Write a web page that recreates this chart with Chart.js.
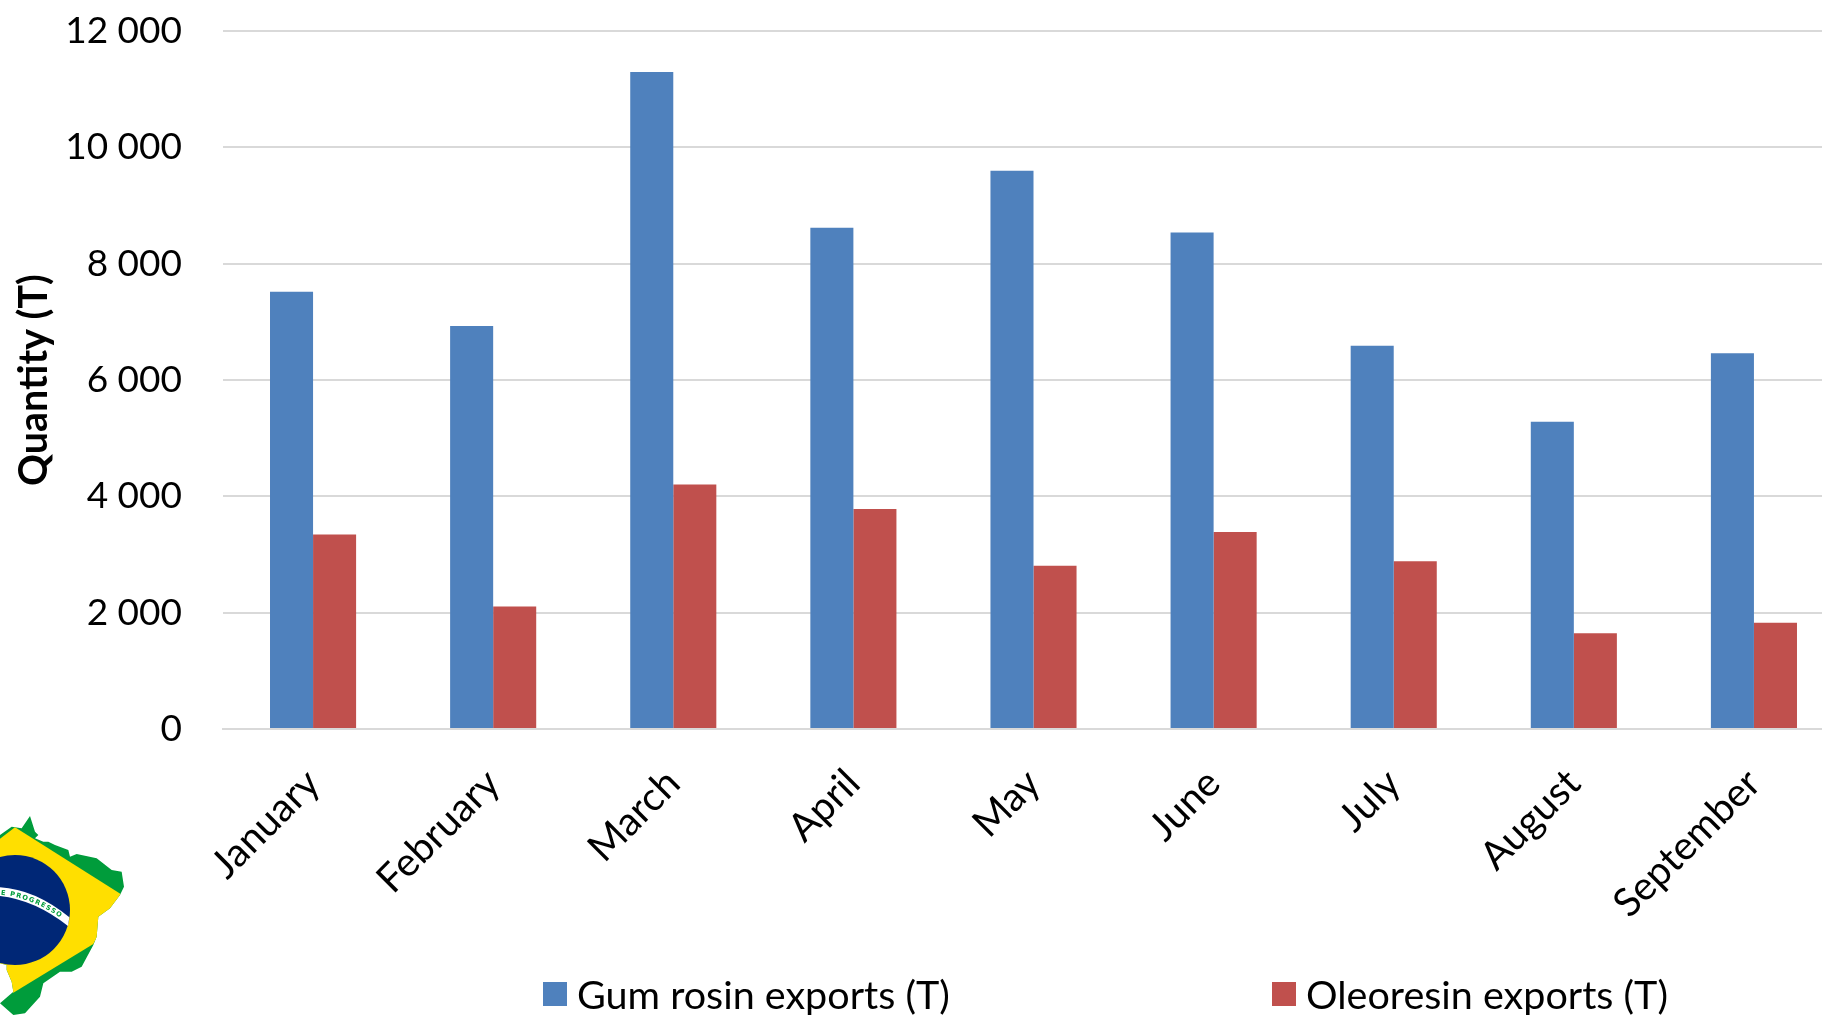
<!DOCTYPE html>
<html lang="en">
<head>
  <meta charset="UTF-8" />
  <title>Brazil gum rosin and oleoresin exports</title>
  <script src="https://cdn.jsdelivr.net/npm/chart.js"></script>
  <style>
    html, body { margin: 0; padding: 0; width: 1822px; height: 1015px; overflow: hidden; background: #fff; }
    canvas { position: absolute; left: 0; top: 0; }
    .legend-item { position: absolute; top: 970px; display: flex; align-items: center; font: 39.5px Lato, sans-serif; color: #000; white-space: nowrap; }
    .legend-item i { display: block; width: 24px; height: 24px; margin-right: 10px; }
    #flag { position: absolute; left: 0; top: 790px; }
  </style>
  <script>
    const months = ["January", "February", "March", "April", "May", "June", "July", "August", "September"];
    const gumRosin = [7519, 6930, 11293, 8617, 9596, 8537, 6590, 5282, 6460];
    const oleoresin = [3345, 2107, 4204, 3784, 2806, 3385, 2886, 1648, 1827];
    const seriesNames = ["Gum rosin exports (T)", "Oleoresin exports (T)"];
    const seriesColors = ["#4f81bd", "#c0504d"];
    const legendLefts = [543, 1272];

    window.onload = () => {
      new Chart(document.getElementById("exportsChart"), {
        type: "bar",
        data: {
          labels: months,
          datasets: [
            { label: seriesNames[0], data: gumRosin, backgroundColor: seriesColors[0] },
            { label: seriesNames[1], data: oleoresin, backgroundColor: seriesColors[1] }
          ]
        },
        options: {
          responsive: false,
          animation: false,
          layout: { padding: { top: 0, left: 0, right: 36, bottom: 0 } },
          datasets: { bar: { categoryPercentage: 0.478, barPercentage: 1 } },
          plugins: { legend: { display: false }, tooltip: { enabled: false } },
          scales: {
            x: {
              afterFit: (axis) => { axis.height = 286; },
              grid: { display: false, drawTicks: false },
              border: { color: "#d9d9d9", width: 2 },
              ticks: { color: "#000", font: { family: "Lato, sans-serif", size: 39.5 }, minRotation: 45, maxRotation: 45, padding: 31, autoSkip: false }
            },
            y: {
              min: 0,
              max: 12000,
              afterFit: (axis) => {
                axis.width = 223;
                // tick padding would otherwise push the plot top down
                axis.paddingTop = 31;
                axis.paddingBottom = 0;
              },
              grid: { color: "#d9d9d9", lineWidth: 2, drawTicks: false },
              border: { display: false },
              title: {
                display: true,
                text: "Quantity (T)",
                color: "#000",
                font: { family: "Lato, sans-serif", size: 39.5, weight: "bold" },
                padding: { top: 11, bottom: 0 }
              },
              ticks: {
                stepSize: 2000,
                color: "#000",
                font: { family: "Lato, sans-serif", size: 37 },
                padding: 41,
                callback: (v) => String(v).replace(/\B(?=(\d{3})+$)/g, " ")
              }
            }
          }
        }
      });

      seriesNames.forEach((name, i) => {
        const item = document.createElement("div");
        item.className = "legend-item";
        item.style.left = legendLefts[i] + "px";
        item.innerHTML = `<i style="background:${seriesColors[i]}"></i>${name}`;
        document.body.appendChild(item);
      });
    };
  </script>
</head>
<body>
  <canvas id="exportsChart" width="1880" height="1015"></canvas>
  <svg id="flag" width="150" height="225" viewBox="0 0 450 675" xmlns="http://www.w3.org/2000/svg">
    <defs>
      <clipPath id="land">
        <path d="M0 135 L35 110 L65 115 L90 78 L105 125 L115 135 L105 145 L130 155 L145 155 L165 165 L205 180 L210 200 L230 192 L290 205 L335 240 L365 245 L372 290 L360 315 L330 355 L295 380 L290 440 L280 465 L245 530 L215 545 L180 545 L130 580 L120 620 L75 670 L40 675 L0 640 L40 605 L35 575 L20 540 L20 525 L0 520 Z" />
      </clipPath>
      <path id="bandCurve" d="M0 314 Q105 322 206 402" />
    </defs>
    <g clip-path="url(#land)">
      <rect width="450" height="675" fill="#009c3b" />
      <path d="M45 112 L362 312 L280 462 L40 608 L-280 360 Z" fill="#ffdf00" />
      <circle cx="45" cy="360" r="165" fill="#002776" />
    </g>
    <path d="M0 292 Q105 298 208 382 L204 408 Q105 330 0 318 Z" fill="#fff" />
    <text font-family="DejaVu Sans, sans-serif" font-size="20" font-weight="bold" fill="#009c3b" letter-spacing="3.5"><textPath href="#bandCurve" startOffset="2">E PROGRESSO</textPath></text>
  </svg>
</body>
</html>
